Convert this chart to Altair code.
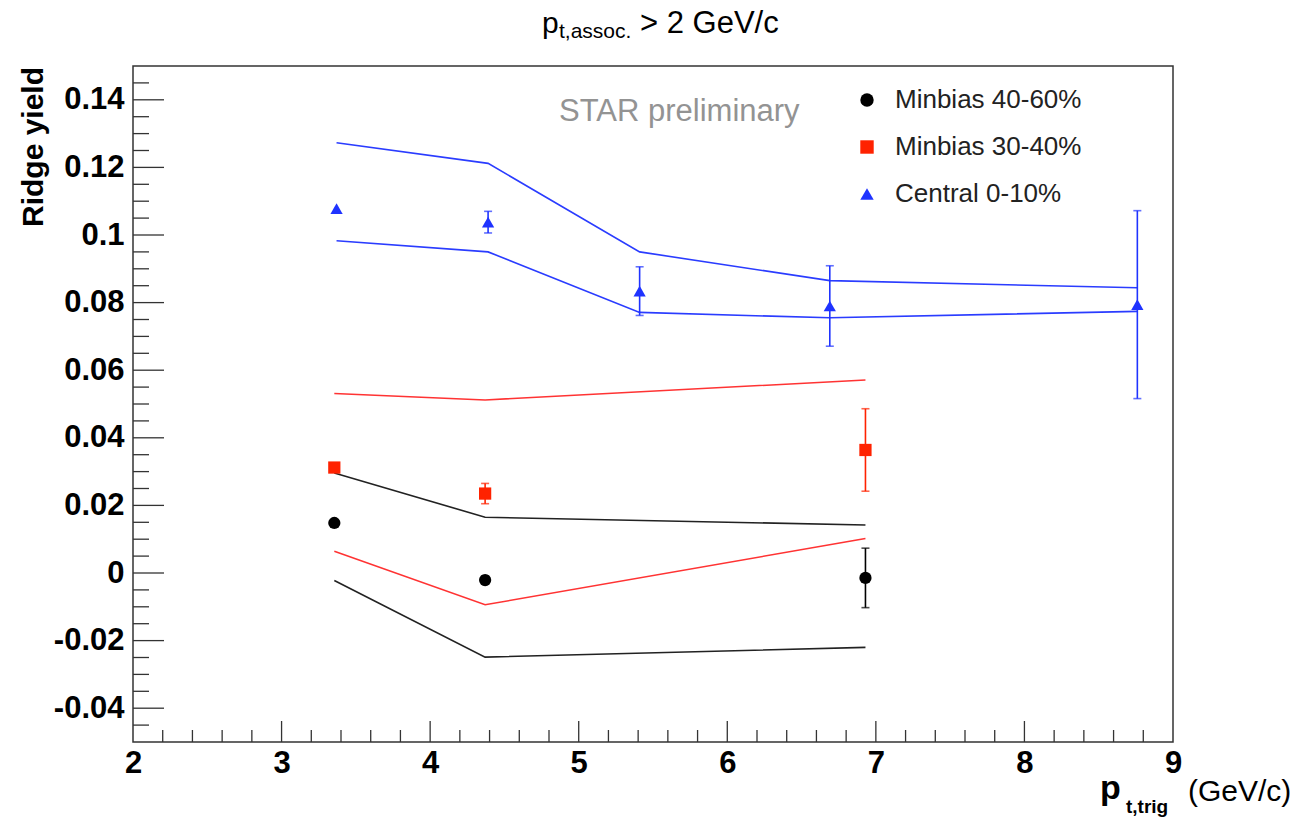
import altair as alt
import pandas as pd

FONT = "Liberation Sans"
W, H = 1040, 676

# ---- data ----
series_names = ["Minbias 40-60%", "Minbias 30-40%", "Central 0-10%"]
series_colors = ["#000000", "#ff2200", "#1f33ff"]
line_colors = ["#222222", "#ff3333", "#2a3cff"]

black_x = [3.355, 4.37, 6.93]
black_y = [0.0148, -0.0021, -0.00145]
black_err = [0.0, 0.0012, 0.0088]

red_x = [3.355, 4.37, 6.93]
red_y = [0.0312, 0.0235, 0.0364]
red_err = [0.0, 0.003, 0.0122]

blue_x = [3.37, 4.39, 5.41, 6.69, 8.76]
blue_y = [0.1078, 0.1038, 0.0834, 0.079, 0.0794]
blue_err = [0.0, 0.0032, 0.0072, 0.0119, 0.0278]

black_upper = [0.0296, 0.0165, 0.0142]
black_lower = [-0.0022, -0.0249, -0.0220]
red_upper = [0.0531, 0.0512, 0.0571]
red_lower = [0.0064, -0.0094, 0.0102]
blue_upper = [0.1273, 0.1212, 0.0950, 0.0865, 0.0844]
blue_lower = [0.0983, 0.0950, 0.0771, 0.0755, 0.0774]

y_tick_values = [-0.04, -0.02, 0, 0.02, 0.04, 0.06, 0.08, 0.1, 0.12, 0.14]
x_tick_values = [2, 3, 4, 5, 6, 7, 8, 9]
y_minor_values = [round(-0.05 + 0.005 * i, 3) for i in range(1, 40)]
y_minor_values = [v for v in y_minor_values if round(v / 0.02, 6) != round(v / 0.02)]
x_minor_values = [round(2 + 0.2 * i, 2) for i in range(1, 35)]
x_minor_values = [v for v in x_minor_values if abs(v - round(v)) > 1e-6]

# ---- tables ----
rows = []
for name, col, xs, ys, es in [
    (series_names[0], series_colors[0], black_x, black_y, black_err),
    (series_names[1], series_colors[1], red_x, red_y, red_err),
    (series_names[2], series_colors[2], blue_x, blue_y, blue_err),
]:
    for x, y, e in zip(xs, ys, es):
        rows.append({"series": name, "col": col, "x": x, "y": y,
                     "lo": y - e, "hi": y + e, "err": e})
pts = pd.DataFrame(rows)
errs = pts[pts["err"] > 0]

band_rows = []
for bid, col, xs, ys in [
    ("bu", line_colors[0], black_x, black_upper),
    ("bl", line_colors[0], black_x, black_lower),
    ("ru", line_colors[1], red_x, red_upper),
    ("rl", line_colors[1], red_x, red_lower),
    ("cu", line_colors[2], blue_x, blue_upper),
    ("cl", line_colors[2], blue_x, blue_lower),
]:
    for x, y in zip(xs, ys):
        band_rows.append({"band": bid, "col": col, "x": x, "y": y})
bands = pd.DataFrame(band_rows)

xscale = alt.Scale(domain=[2, 9], nice=False, zero=False)
yscale = alt.Scale(domain=[-0.05, 0.15], nice=False, zero=False)

xaxis = alt.Axis(values=x_tick_values, title=None, ticks=False, tickSize=0, domain=False,
                 grid=False, labelFont=FONT, labelFontSize=31, labelFontWeight="bold",
                 labelColor="#000", labelPadding=6, labelFlush=False, labelOverlap=False,
                 labelBound=False, labelExpr="'' + datum.value")
yaxis = alt.Axis(values=y_tick_values, title=None, ticks=False, tickSize=0, domain=False,
                 grid=False, labelFont=FONT, labelFontSize=31, labelFontWeight="bold",
                 labelColor="#000", labelPadding=9, labelFlush=False, labelOverlap=False,
                 labelBound=False, labelExpr="'' + datum.value")

base_x = alt.X("x:Q", scale=xscale, axis=xaxis)
base_y = alt.Y("y:Q", scale=yscale, axis=yaxis)

lines = alt.Chart(bands).mark_line(strokeWidth=1.6).encode(
    x=base_x, y=base_y, detail="band:N", color=alt.Color("col:N", scale=None)
)

err_rules = alt.Chart(errs).mark_rule(strokeWidth=1.6).encode(
    x=alt.X("x:Q", scale=xscale), y=alt.Y("lo:Q", scale=yscale), y2="hi:Q",
    color=alt.Color("col:N", scale=None)
)
cap_lo = alt.Chart(errs).mark_tick(orient="horizontal", size=8, thickness=1.6).encode(
    x=alt.X("x:Q", scale=xscale), y=alt.Y("lo:Q", scale=yscale),
    color=alt.Color("col:N", scale=None)
)
cap_hi = alt.Chart(errs).mark_tick(orient="horizontal", size=8, thickness=1.6).encode(
    x=alt.X("x:Q", scale=xscale), y=alt.Y("hi:Q", scale=yscale),
    color=alt.Color("col:N", scale=None)
)

legend_cfg = dict(title=None, orient="none", legendX=721, legendY=21,
                  labelFont=FONT, labelFontSize=26, labelColor="#222", labelLimit=0,
                  labelOffset=15, rowPadding=21, symbolSize=180, symbolOpacity=1,
                  symbolStrokeWidth=0, padding=0)

points = alt.Chart(pts).mark_point(filled=True, size=150, opacity=1, fillOpacity=1,
                                   strokeOpacity=1).encode(
    x=alt.X("x:Q", scale=xscale), y=alt.Y("y:Q", scale=yscale),
    color=alt.Color("series:N", scale=alt.Scale(domain=series_names, range=series_colors),
                    legend=alt.Legend(**legend_cfg)),
    shape=alt.Shape("series:N", scale=alt.Scale(domain=series_names,
                                                range=["circle", "square", "triangle-up"]),
                    legend=alt.Legend(**legend_cfg)),
)

# inward ticks (ROOT style)
ymaj = alt.Chart(pd.DataFrame({"v": y_tick_values})).mark_rule(color="#333", strokeWidth=1.3).encode(
    y=alt.Y("v:Q", scale=yscale), x=alt.value(0), x2=alt.value(31))
ymin = alt.Chart(pd.DataFrame({"v": y_minor_values})).mark_rule(color="#333", strokeWidth=1.3).encode(
    y=alt.Y("v:Q", scale=yscale), x=alt.value(0), x2=alt.value(16))
xmaj = alt.Chart(pd.DataFrame({"v": x_tick_values[1:-1]})).mark_rule(color="#333", strokeWidth=1.3).encode(
    x=alt.X("v:Q", scale=xscale), y=alt.value(H), y2=alt.value(H - 21))
xmin = alt.Chart(pd.DataFrame({"v": x_minor_values})).mark_rule(color="#333", strokeWidth=1.3).encode(
    x=alt.X("v:Q", scale=xscale), y=alt.value(H), y2=alt.value(H - 12))

one = pd.DataFrame({"k": [0]})

def label(text, x, y, size, weight="normal", color="#000", angle=0, align="left"):
    mk = dict(font=FONT, fontSize=size, fontWeight=weight, color=color, align=align,
              baseline="alphabetic")
    if angle:
        mk["angle"] = angle
    return alt.Chart(one).mark_text(**mk).encode(
        x=alt.value(x), y=alt.value(y), text=alt.value(text))

texts = [
    label("p", 409, -33, 30),
    label("t,assoc.", 426, -28, 21),
    label("> 2 GeV/c", 507, -33, 31),
    label("STAR preliminary", 426, 55, 31, color="#939393"),
    label("Ridge yield", -90, 81, 30, weight="bold", angle=270, align="center"),
    label("p", 967, 733, 34, weight="bold"),
    label("t,trig", 993, 747, 19, weight="bold"),
    label("(GeV/c)", 1055, 735, 30),
]

chart = alt.layer(
    lines, err_rules, cap_lo, cap_hi, ymaj, ymin, xmaj, xmin, points, *texts
).properties(
    width=W, height=H,
    padding={"left": 133, "top": 66, "right": 123, "bottom": 77},
    autosize=alt.AutoSizeParams(type="none"),
    background="white",
).configure_view(stroke="#333", strokeWidth=1.5).configure_legend(symbolOpacity=1)

chart.save("out.html", embed_options={"renderer": "svg", "actions": False})
